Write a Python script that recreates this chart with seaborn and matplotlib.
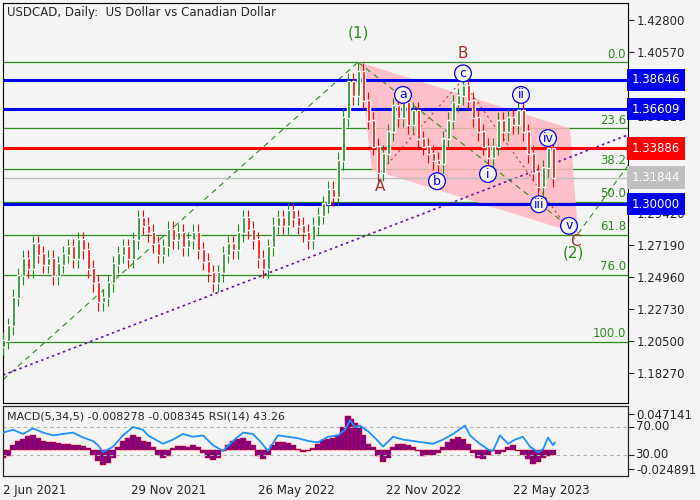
import matplotlib
matplotlib.use("Agg")
import matplotlib.pyplot as plt
import matplotlib.transforms as mtransforms
import seaborn as sns
import numpy as np

sns.set_style("white")
plt.rcParams['font.family'] = ['DejaVu Sans']

# ---------------- data ----------------
closes = [1.205,1.215,1.235,1.25,1.262,1.255,1.272,1.265,1.258,1.262,1.25,1.258,1.265,1.27,1.262,1.275,1.268,1.255,1.245,1.232,
          1.235,1.245,1.258,1.265,1.27,1.262,1.275,1.29,1.285,1.28,1.272,1.265,1.27,1.282,1.275,1.28,1.27,1.275,1.28,1.268,
          1.26,1.252,1.245,1.252,1.265,1.272,1.268,1.28,1.29,1.282,1.275,1.262,1.255,1.27,1.285,1.29,1.285,1.295,1.29,1.285,
          1.28,1.275,1.285,1.292,1.3,1.31,1.305,1.33,1.36,1.385,1.375,1.392,1.372,1.358,1.34,1.322,1.335,1.35,1.368,1.36,
          1.37,1.355,1.365,1.345,1.34,1.335,1.33,1.328,1.345,1.358,1.37,1.375,1.382,1.372,1.36,1.35,1.34,1.332,1.34,1.358,
          1.35,1.36,1.355,1.365,1.35,1.335,1.322,1.312,1.325,1.338,1.318]
bar_step = 5
fib_levels = [0.0, 23.6, 38.2, 50.0, 61.8, 76.0, 100.0]
fib_high, fib_low = 1.3987, 1.2043
blue_levels = [1.38646, 1.36609, 1.30000]
red_level = 1.33886
last_price = 1.31844
price_ticks = [1.42800,1.40570,1.38340,1.36110,1.33880,1.31650,1.29420,1.27190,1.24960,1.22730,1.20500,1.18270]
date_ticks = [0, 128, 255, 383, 510]
date_labels = ["2 Jun 2021", "29 Nov 2021", "26 May 2022", "22 Nov 2022", "22 May 2023"]

macd_x = [0,5,10,15,20,25,30,35,40,45,50,55,60,65,70,75,80,85,90,95,100,105,110,115,120,125,130,135,140,145,150,155,160,165,170,175,180,185,190,195,200,205,210,215,220,225,230,235,240,245,250,255,260,265,270,275,280,285,290,295,300,305,310,315,320,325,330,335,340,345,348,352,356,360,365,370,375,380,385,390,395,400,405,410,415,420,425,430,435,440,445,450,455,460,465,470,475,480,485,490,495,500,505,510,515,520,525,530,535,540,545,550]
macd_h = [-0.010,-0.008,0.006,0.012,0.014,0.018,0.020,0.016,0.012,0.010,0.011,0.009,0.008,0.008,0.007,0.006,0.005,0.002,-0.006,-0.014,-0.020,-0.017,-0.010,0.004,0.012,0.016,0.020,0.017,0.012,0.010,0.004,-0.006,-0.010,-0.008,0.003,0.005,0.005,0.004,0.006,0.004,-0.004,-0.010,-0.013,-0.010,-0.002,0.006,0.012,0.015,0.016,0.012,0.006,-0.008,-0.012,-0.006,0.006,0.010,0.011,0.009,0.006,0.001,-0.003,-0.002,0.002,0.008,0.013,0.015,0.016,0.020,0.030,0.045,0.040,0.035,0.030,0.020,0.008,0.004,-0.008,-0.016,-0.010,0.004,0.008,0.008,0.007,0.004,-0.002,-0.008,-0.007,-0.006,-0.004,0.004,0.010,0.015,0.017,0.015,0.008,-0.004,-0.010,-0.012,-0.006,-0.002,-0.005,-0.003,0.004,0.007,-0.002,-0.006,-0.012,-0.018,-0.016,-0.010,-0.008,-0.006]
rsi_x = [0,10,20,30,40,50,60,70,80,90,95,100,110,120,130,140,145,150,160,170,180,190,200,210,220,230,240,250,258,265,275,285,295,305,315,325,335,342,347,352,357,365,375,380,390,400,410,420,430,440,450,458,462,467,475,485,490,497,505,512,520,527,535,540,545,550,552]
rsi_v = [62,66,60,68,62,58,60,62,55,50,44,34,42,58,70,66,58,54,46,52,60,56,58,44,36,50,62,60,48,36,58,56,54,50,48,56,58,66,80,70,72,64,50,42,56,52,50,48,46,52,60,68,72,58,48,38,36,58,46,52,56,42,34,38,55,44,48]

# annotations (bar index, price)
wave_poly = [(356,1.3987),(567,1.3527),(575,1.2795),(369,1.3241)]
abc_path = [(377,1.322),(459,1.386),(572,1.276)]
circle_lbls = [("a",400,1.376),("b",434,1.316),("c",460,1.391),("i",485,1.321),("ii",518,1.376),
               ("iii",536,1.300),("iv",545,1.346),("v",566,1.285)]
letter_lbls = [("A",377,1.312),("B",460,1.405),("C",572,1.274),("(1)",355,1.419),("(2)",570,1.266)]

# ---------------- figure ----------------
bg = "#f4f4f4"
fig = plt.figure(figsize=(7, 5), dpi=100, facecolor=bg)
ax = fig.add_axes([3/700, 1-403/500, 625/700, 400/500])
ax2 = fig.add_axes([3/700, 1-476/500, 625/700, 70/500])
for a in (ax, ax2):
    a.set_facecolor(bg)
    for s in a.spines.values():
        s.set_color("black"); s.set_linewidth(0.8)

xmax = 625
ymin, ymax = 1.1618, 1.4399
ax.set_xlim(0, xmax); ax.set_ylim(ymin, ymax)

rng = fib_high - fib_low
for lv in fib_levels:
    p = fib_high - rng*lv/100
    ax.axhline(p, color="#2e8b22", lw=0.9, zorder=1)
    ax.text(xmax-2, p+0.0012, f"{lv:.1f}", color="#2e8b22", ha="right", va="bottom", fontsize=8.5)

ax.add_patch(plt.Polygon(wave_poly, closed=True, fc="#ffb6c1", ec="none", alpha=0.85, zorder=1.5))

ax.plot([0, 355], [1.178, 1.3987], color="#2e8b22", ls=(0,(5,4)), lw=0.8, zorder=2)
ax.plot([355, 575], [1.3987, 1.2795], color="#2e8b22", ls=(0,(5,4)), lw=0.8, zorder=2)
ax.plot([575, xmax], [1.2795, 1.3270], color="#2e8b22", ls=(0,(5,4)), lw=0.8, zorder=2)
ax.plot([0, xmax], [1.1812, 1.3482], color="#6a0dad", ls=(0,(1.5,2)), lw=1.2, zorder=2)
ax.plot([p[0] for p in abc_path], [p[1] for p in abc_path], color="#c0392b", ls=(0,(2,3)), lw=0.8, zorder=2)

ax.axhline(last_price, color="#bdbdbd", lw=1, zorder=2)
for lv in blue_levels:
    ax.axhline(lv, color="#0000ee", lw=2.2, zorder=3)
ax.axhline(red_level, color="#ff0000", lw=2.2, zorder=3)

xs = np.arange(len(closes))*bar_step
opens = [closes[0]-0.004] + closes[:-1]
for x, o, c in zip(xs, opens, closes):
    col = "#1a8c1a" if c >= o else "#ff0000"
    hi = max(o, c)+0.006; lo = min(o, c)-0.006
    ax.vlines(x, lo, hi, color=col, lw=0.8, zorder=4)
    ax.bar(x, abs(c-o)+0.0008, bottom=min(o, c), width=3.0, color=col, zorder=4)

for t, x, y in circle_lbls:
    ax.text(x, y, t, color="#0000ee", fontsize=9, ha="center", va="center", zorder=6,
            bbox=dict(boxstyle="circle,pad=0.15", fc=bg, ec="#0000ee", lw=0.9))
for t, x, y in letter_lbls:
    ax.text(x, y, t, color="#2e8b22" if t.startswith("(") else "#a0352d", fontsize=11,
            ha="center", va="center", zorder=6)

ax.text(4, 1.4335, "USDCAD, Daily:  US Dollar vs Canadian Dollar", fontsize=8.5, va="center")

ax.yaxis.tick_right()
ax.set_yticks(price_ticks)
ax.set_yticklabels([f"{v:.5f}" for v in price_ticks], fontsize=8.5)
ax.tick_params(axis="y", length=4, pad=2)
ax.set_xticks([])
trans = mtransforms.blended_transform_factory(ax.transAxes, ax.transData)
for lv, fc in [(blue_levels[0], "#0000ee"), (blue_levels[1], "#0000ee"),
               (red_level, "#ff0000"), (last_price, "#c0c0c0"), (blue_levels[2], "#0000ee")]:
    ax.text(1.006, lv, f"{lv:.5f}", transform=trans, color="white", fontsize=8.5, va="center", ha="left",
            zorder=7, clip_on=False, bbox=dict(boxstyle="square,pad=0.4", fc=fc, ec="none"))

ax2.set_xlim(0, xmax)
ax2.set_ylim(-0.0341, 0.0576)
ax2.bar(macd_x, macd_h, width=5.2, color="#800080", edgecolor="#ff0000", linewidth=0.3, zorder=2)
ax3 = ax2.twinx()
ax3.set_ylim(0, 100)
ax3.axhline(70, color="#b0b0b0", ls=(0,(3,3)), lw=0.8)
ax3.axhline(30, color="#b0b0b0", ls=(0,(3,3)), lw=0.8)
sns.lineplot(x=rsi_x, y=rsi_v, ax=ax3, color="#1e90ff", lw=1.3, zorder=3)
ax2.yaxis.tick_right()
ax2.set_yticks([0.047141, -0.024891]); ax2.set_yticklabels(["0.047141", "-0.024891"], fontsize=8.5)
ax2.tick_params(axis="y", length=4, pad=2)
ax3.set_yticks([70, 30]); ax3.set_yticklabels([])
ax3.tick_params(axis="y", length=4, pad=2)
for v in (70, 30):
    ax3.text(1.012, v, f"{v:.2f}", transform=mtransforms.blended_transform_factory(ax3.transAxes, ax3.transData),
             fontsize=8.5, va="center", clip_on=False)
ax3.set_ylabel(""); ax3.set_xlabel("")
ax2.text(4, 0.050, "MACD(5,34,5) -0.008278 -0.008345 RSI(14) 43.26", fontsize=8, va="top", zorder=5)
ax2.set_xticks(date_ticks)
ax2.set_xticklabels(date_labels, fontsize=8.5, ha="left")
ax2.tick_params(axis="x", length=4, pad=2)

fig.savefig("out.png", dpi=100, facecolor=bg)
